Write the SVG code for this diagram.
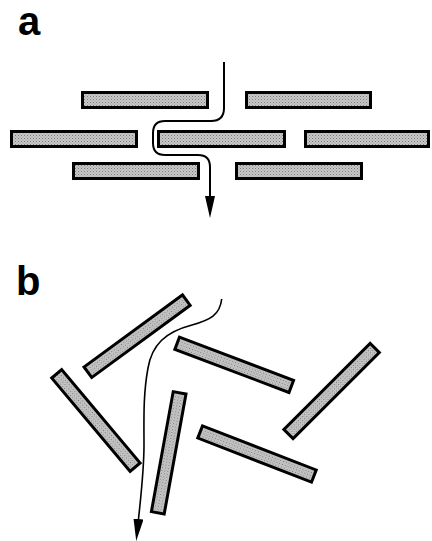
<svg xmlns="http://www.w3.org/2000/svg" width="432" height="541" viewBox="0 0 432 541">
<style>
.lbl{font-family:"Liberation Sans",Arial,sans-serif;font-weight:bold;font-size:40px;fill:#000}
.bar{fill:url(#dots);stroke:#000;stroke-width:3}
.flow{fill:none;stroke:#000}
</style>
<defs>
<pattern id="dots" width="3" height="3" patternUnits="userSpaceOnUse">
<rect width="3" height="3" fill="#c8c8c8"/>
<rect width="1" height="1" fill="#7a7a7a"/>
<rect x="1.5" y="1.5" width="1" height="1" fill="#959595"/>
</pattern>
<marker id="arr" viewBox="0 0 22 10" refX="0" refY="5" markerWidth="22" markerHeight="10" markerUnits="userSpaceOnUse" orient="auto">
<path d="M0,0 L22,5 L0,10 Z" fill="#000"/>
</marker>
</defs>
<text class="lbl" x="18" y="35">a</text>
<text class="lbl" x="16" y="295">b</text>
<g id="a-bar1"><rect class="bar" x="82.5" y="92.5" width="125" height="15"/></g>
<g id="a-bar2"><rect class="bar" x="246.5" y="92.5" width="124" height="15"/></g>
<g id="a-bar3"><rect class="bar" x="11.5" y="131.5" width="125" height="15"/></g>
<g id="a-bar4"><rect class="bar" x="158.5" y="131.5" width="126" height="15"/></g>
<g id="a-bar5"><rect class="bar" x="305.5" y="131.5" width="123" height="15"/></g>
<g id="a-bar6"><rect class="bar" x="73.5" y="163.5" width="125" height="15"/></g>
<g id="a-bar7"><rect class="bar" x="236.5" y="163.5" width="125" height="15"/></g>
<g id="b-bar1"><rect class="bar" x="-61" y="-6.5" width="122" height="13" transform="translate(137.1,336.2) rotate(-36.2)"/></g>
<g id="b-bar2"><rect class="bar" x="-61" y="-6.5" width="122" height="13" transform="translate(95.9,420.5) rotate(50)"/></g>
<g id="b-bar3"><rect class="bar" x="-61" y="-6.5" width="122" height="13" transform="translate(234.2,364.8) rotate(20.7)"/></g>
<g id="b-bar4"><rect class="bar" x="-61" y="-6.5" width="122" height="13" transform="translate(331.6,391) rotate(-45)"/></g>
<g id="b-bar5"><rect class="bar" x="-61" y="-6.5" width="122" height="13" transform="translate(168.7,452.8) rotate(100.3)"/></g>
<g id="b-bar6"><rect class="bar" x="-61" y="-6.5" width="122" height="13" transform="translate(257,454) rotate(21.2)"/></g>
<g id="connectors">
<path class="flow" stroke-width="2" marker-end="url(#arr)" d="M224,62 L224,108 Q224,121 211,121 L165,121 Q153,121 153,133 L153,143 Q153,155 165,155 L198,155 Q210,155 210,167 L210,196"/>
<path class="flow" stroke-width="1.6" marker-end="url(#arr)" d="M221.7,299 C220,315 210,320 192,325 C165,332 152,345 148,368 C143,395 144,420 144,445 C144,470 141,495 138.5,519"/>
</g>
</svg>
